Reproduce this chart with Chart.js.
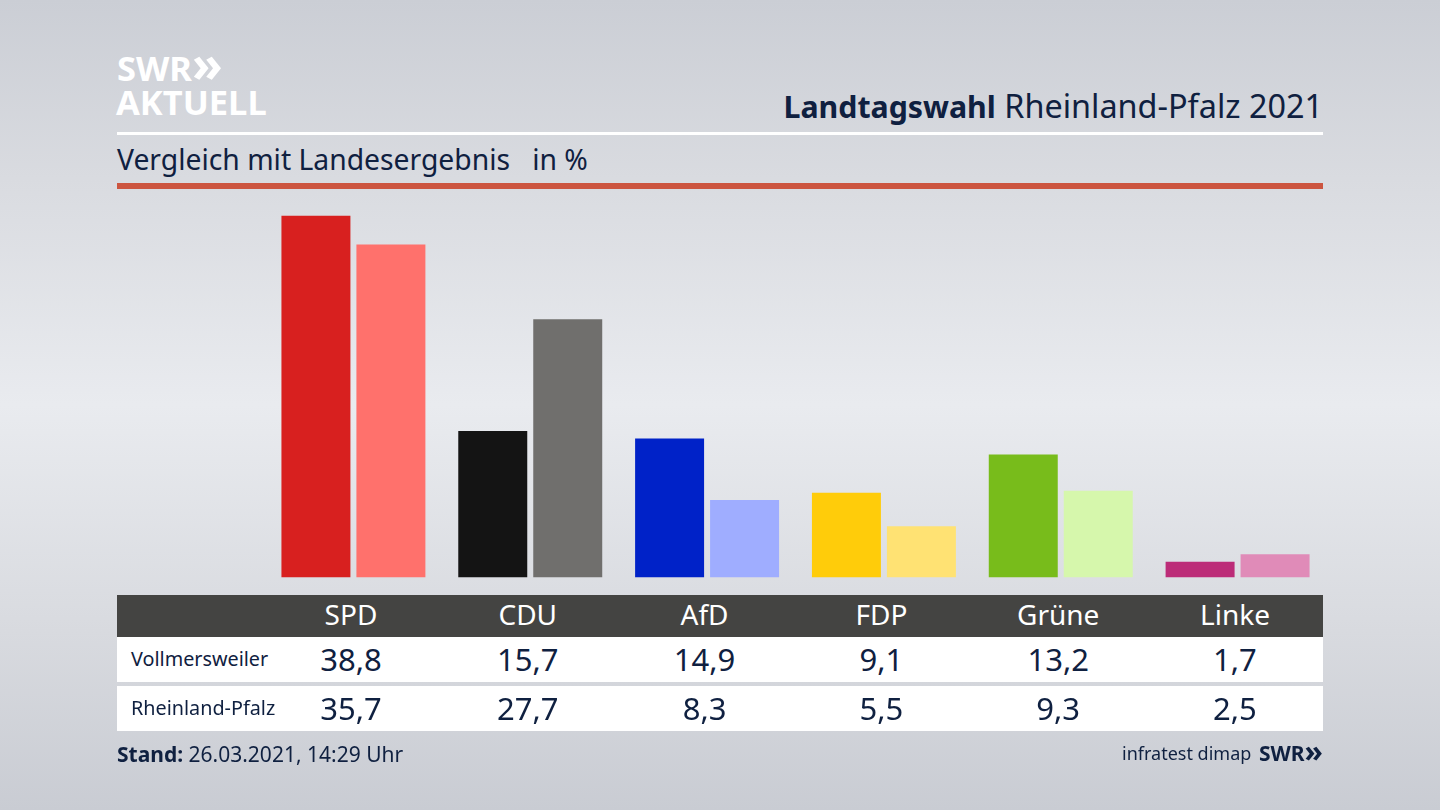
<!DOCTYPE html>
<html lang="de">
<head>
<meta charset="utf-8">
<title>Landtagswahl Rheinland-Pfalz 2021</title>
<script src="https://cdn.jsdelivr.net/npm/chart.js@4"></script>
<style>
html, body { margin: 0; padding: 0; }
body {
    width: 1440px; height: 810px; overflow: hidden; position: relative;
    background: linear-gradient(180deg, #cbced5 0%, #d9dbe0 22%, #e9ebef 50%, #d8dadf 78%, #c9ccd3 100%);
    font-family: "Noto Sans", sans-serif; color: #0f2040;
}
#chart { position: absolute; left: 0; top: 0; width: 1440px; height: 810px; }
.abs { position: absolute; white-space: nowrap; }
.rule { position: absolute; left: 117px; width: 1206px; }
.logo { font-weight: 700; color: #fff; font-size: 34.5px; line-height: 44px; }
.chev { font-size: 50px; line-height: 0; vertical-align: -1px; }
#table { position: absolute; left: 117px; top: 595px; width: 1206px; }
.row { display: grid; grid-template-columns: 145.6px repeat(6, 176.8px); align-items: center; text-align: center; }
.row div { position: relative; top: -2px; white-space: nowrap; }
.head { height: 42px; background: #444442; color: #fff; font-size: 28px; }
.body { height: 45px; background: #fff; font-size: 31px; }
.row.body div { top: -1px; }
.row .name { text-align: left; padding-left: 14px; font-size: 19.8px; }
</style>
</head>
<body>
<div class="abs logo" style="left:117px;top:46px">SWR<span class="chev">»</span></div>
<div class="abs logo" style="left:116px;top:80px">AKTUELL</div>
<div class="abs" style="right:117px;top:84px;font-size:32.4px;line-height:42px"><b style="font-size:30.3px">Landtagswahl</b> Rheinland-Pfalz 2021</div>
<div class="rule" style="top:132px;height:3px;background:#fff"></div>
<div class="abs" style="left:117px;top:139px;font-size:28.3px;line-height:40px">Vergleich mit Landesergebnis &nbsp; in %</div>
<div class="rule" style="top:183px;height:6px;background:#cc5540"></div>
<canvas id="chart" width="1440" height="810"></canvas>
<div id="table"></div>
<div class="abs" style="left:117px;top:738px;font-size:21px;line-height:32px"><b>Stand:</b> 26.03.2021, 14:29 Uhr</div>
<div class="abs" style="left:1122px;top:738px;font-size:18px;line-height:30px">infratest dimap</div>
<div class="abs" style="right:117px;top:738px;font-size:21px;line-height:30px;font-weight:700">SWR<span style="font-size:30px;line-height:0;vertical-align:-1px">»</span></div>
<script>
const parties = ['SPD', 'CDU', 'AfD', 'FDP', 'Grüne', 'Linke'];
const localName = 'Vollmersweiler';
const stateName = 'Rheinland-Pfalz';
const localValues = [38.8, 15.7, 14.9, 9.1, 13.2, 1.7];
const stateValues = [35.7, 27.7, 8.3, 5.5, 9.3, 2.5];
const localColors = ['#d8201f', '#141414', '#0022c8', '#ffcc0a', '#78bc1b', '#bc2c78'];
const stateColors = ['#ff716c', '#706f6d', '#9fadff', '#ffe273', '#d6f7ac', '#e08bb8'];

const formatValue = v => v.toFixed(1).replace('.', ',');

function addRow(cls, label, cells) {
    const row = document.createElement('div');
    row.className = 'row ' + cls;
    const first = document.createElement('div');
    first.className = 'name';
    first.textContent = label;
    row.appendChild(first);
    cells.forEach(text => {
        const cell = document.createElement('div');
        cell.textContent = text;
        row.appendChild(cell);
    });
    document.getElementById('table').appendChild(row);
    return row;
}

addRow('head', '', parties);
addRow('body', localName, localValues.map(formatValue));
addRow('body', stateName, stateValues.map(formatValue)).style.marginTop = '4px';

new Chart(document.getElementById('chart'), {
    type: 'bar',
    data: {
        labels: parties,
        datasets: [
            { label: localName, data: localValues, backgroundColor: localColors },
            { label: stateName, data: stateValues, backgroundColor: stateColors }
        ]
    },
    options: {
        responsive: false,
        animation: false,
        layout: { padding: { left: 265, right: 114, top: 204.5, bottom: 232.5 } },
        datasets: { bar: { categoryPercentage: 0.848, barPercentage: 0.92 } },
        plugins: { legend: { display: false }, tooltip: { enabled: false } },
        scales: {
            x: { display: false },
            y: { display: false, min: 0, max: 40 }
        }
    }
});
</script>
</body>
</html>
